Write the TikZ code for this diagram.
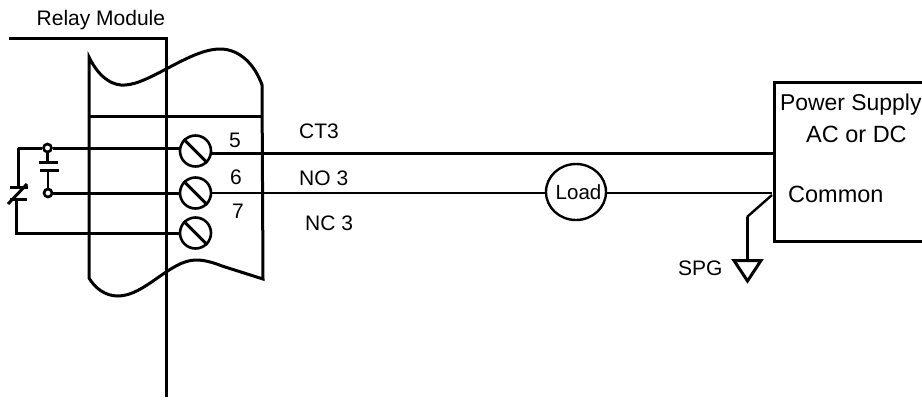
\documentclass[tikz,border=0pt]{standalone}
\usepackage{fontspec}
\usetikzlibrary{shapes.geometric}
\setmainfont{Liberation Sans}
\begin{document}
\begin{tikzpicture}[x=1pt,y=-1pt,
  line join=miter,
  wire/.style={draw=black,line width=3pt},
  thinwire/.style={draw=black,line width=2.4pt},
  screw/.style={circle,draw=black,line width=2.6pt,minimum size=31pt,inner sep=0pt},
  term/.style={circle,draw=black,fill=white,line width=2.6pt,minimum size=8pt,inner sep=0pt},
  lbl/.style={inner sep=0pt,anchor=base west,font=\fontsize{21pt}{24pt}\selectfont},
  lblbig/.style={inner sep=0pt,anchor=base west,font=\fontsize{23.5pt}{26pt}\selectfont},
  lblps/.style={inner sep=0pt,anchor=base west,font=\fontsize{22.9pt}{26pt}\selectfont},
  loadnode/.style={ellipse,draw=black,line width=2.4pt,minimum width=60pt,minimum height=56pt,inner sep=0pt},
  loadtext/.style={inner sep=0pt,anchor=base west,font=\fontsize{20.5pt}{24pt}\selectfont}]
\useasboundingbox (0,0) rectangle (922,400);
% housing line
\coordinate (hA) at (9,38); \coordinate (hB) at (166,38); \coordinate (hC) at (166,397);
\draw[wire] (hA) -- (hB) -- (hC);
% module outline
\coordinate (mTL) at (89,57); \coordinate (mBL) at (89,278);
\coordinate (mTR) at (262,85); \coordinate (mBR) at (263,279);
\coordinate (mHL) at (89,116); \coordinate (mHR) at (262,116);
\draw[wire] (mTL) .. controls (100,80) and (115,86) .. (125,85)
  .. controls (150,84) and (190,49) .. (220,49)
  .. controls (240,49) and (255,65) .. (mTR) -- (mBR)
  -- (222,266) .. controls (212,262) and (204,260) .. (196,260)
  .. controls (170,260) and (145,296) .. (118,296)
  .. controls (105,296) and (95,288) .. (mBL) -- cycle;
\draw[wire] (mHL) -- (mHR);
% screws
\node[screw] (s5) at (195.5,151) {};
\node[screw] (s6) at (195.5,193) {};
\node[screw] (s7) at (195.5,233) {};
\foreach \n in {s5,s6,s7}
  \draw[wire] (\n.135) -- (\n.-45);
% contacts
\coordinate (nwTop) at (18,148);
\node[term] (t1) at (47.5,148) {};
\node[term] (t2) at (48,193) {};
\coordinate (p1a) at (39,162); \coordinate (p1b) at (58,162);
\coordinate (p2a) at (40,170); \coordinate (p2b) at (59,170);
\coordinate (p1m) at (47.5,162); \coordinate (p2m) at (48,170);
\coordinate (s5L) at (s5.west |- nwTop);
\draw[wire] (nwTop) -- (t1);
\draw[wire] (t1) -- (s5L);
\draw[wire] (t2) -- (s6.west);
\draw[wire] (t1) -- (p1m);
\draw[thinwire] (p2m) -- (t2);
\draw[wire] (p1a) -- (p1b);
\draw[wire] (p2a) -- (p2b);
% NC contact
\coordinate (n1a) at (10,187); \coordinate (n1b) at (28,187);
\coordinate (n2a) at (10,199.5); \coordinate (n2b) at (27,199.5);
\coordinate (sl1) at (8,204); \coordinate (sl2) at (27,184);
\coordinate (ncUp) at (18,187); \coordinate (ncDn) at (16,199.5);
\coordinate (ncCorner) at (16,233);
\draw[wire] (nwTop) -- (ncUp);
\draw[wire] (n1a) -- (n1b);
\draw[wire] (n2a) -- (n2b);
\draw[wire] (sl1) -- (sl2);
\draw[wire] (ncDn) -- (ncCorner) -- (s7.west);
% right
\coordinate (boxTL) at (774,82); \coordinate (boxTR) at (930,82);
\coordinate (boxBL) at (774,241); \coordinate (boxBR) at (930,241);
\draw[wire] (boxTR) -- (boxTL) -- (boxBL) -- (boxBR);
\node[loadnode] (load) at (576,192) {};
\node[loadtext] (ltx) at (555.5,199) {Load};
\coordinate (p5) at (774,153.5);
\coordinate (p5s) at (211,153.5);
\coordinate (p6) at (772,193);
\coordinate (s6r) at (s6.east |- p6);
\coordinate (gA) at (772,195); \coordinate (gB) at (747,217); \coordinate (gC) at (747,260);
\draw[wire] (p5s) -- (p5);
\draw[thinwire] (s6r) -- (load.west |- p6);
\draw[thinwire] (load.east |- p6) -- (p6);
\draw[thinwire] (gA) -- (gB);
\draw[wire] (gB) -- (gC);
\coordinate (tA) at (734,260.5); \coordinate (tB) at (761,260.5); \coordinate (tC) at (747.5,281);
\draw[wire] (tA) -- (tB) -- (tC) -- cycle;
% labels
\node[lbl] (rm) at (36.5,25.5) {Relay Module};
\node[lbl] (l5) at (229,147) {5};
\node[lbl] (l6) at (230,184) {6};
\node[lbl] (l7) at (232,218) {7};
\node[lbl] (ct) at (299,138) {CT3};
\node[lbl] (no) at (299,185) {NO 3};
\node[lbl] (nc) at (305,230.5) {NC 3};
\node[lblps] (ps) at (780,110.7) {Power Supply};
\node[lblbig] (ac) at (806,142.7) {AC or DC};
\node[lblbig] (co) at (788,202) {Common};
\node[lbl] (spg) at (678,275.7) {SPG};
\end{tikzpicture}
\end{document}
